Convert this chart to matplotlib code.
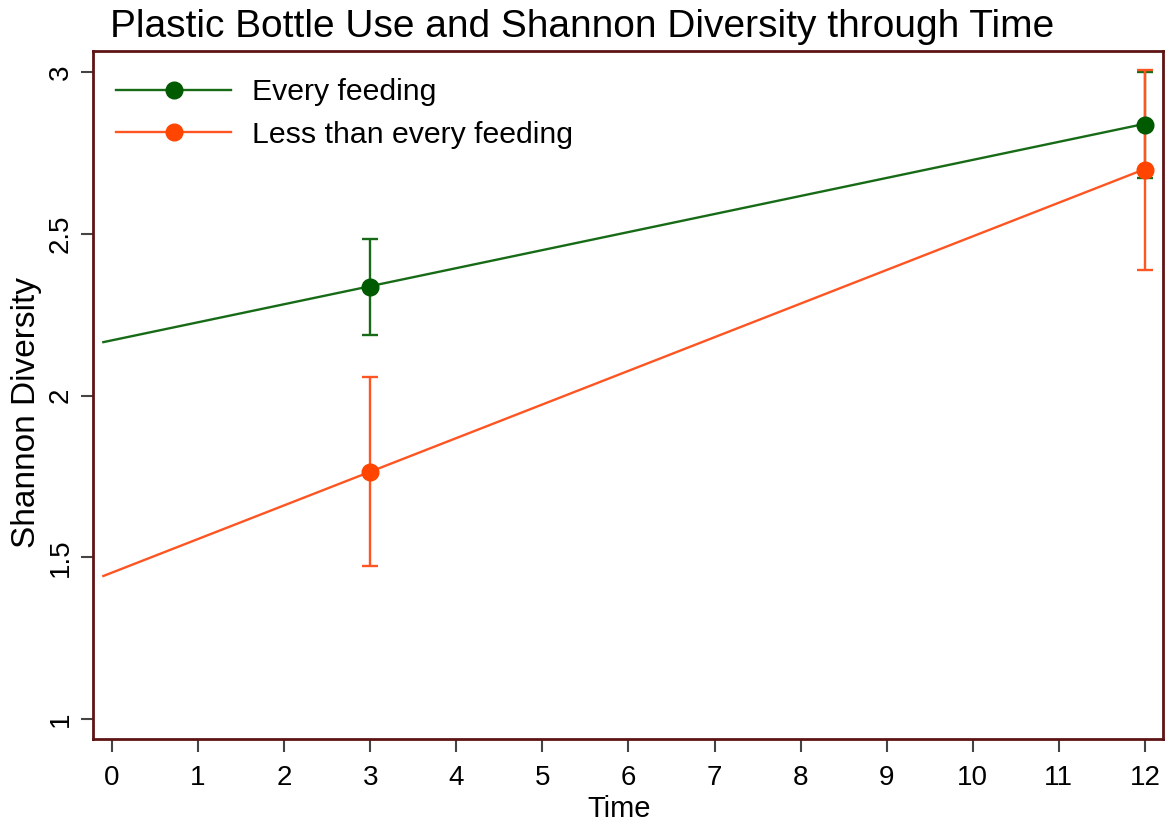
import matplotlib
matplotlib.use('Agg')
import matplotlib.pyplot as plt

# data
time_pts = [3, 12]
every_mean = [2.336, 2.836]
every_err = [0.148, 0.163]
less_mean = [1.764, 2.697]
less_err = [0.292, 0.309]

# fitted lines
fit_x = [-0.1, 12]
every_fit = [2.165, 2.840]
less_fit = [1.442, 2.700]

green = '#176b17'
green_pt = '#005a00'
orange = '#ff5522'
orange_pt = '#ff4500'
frame = '#5e1414'

plt.rcParams['font.family'] = ['Liberation Sans', 'DejaVu Sans']

fig = plt.figure(figsize=(11.7, 8.27), dpi=100)
ax = fig.add_axes([0.0795, 0.1064, 0.9145, 0.8319])

ax.plot(fit_x, every_fit, color=green, lw=1.7)
ax.plot(fit_x, less_fit, color=orange, lw=1.7)
ax.errorbar(time_pts, every_mean, yerr=every_err, fmt='none', ecolor=green,
            elinewidth=1.7, capsize=6, capthick=1.7)
ax.errorbar(time_pts, less_mean, yerr=less_err, fmt='none', ecolor=orange,
            elinewidth=1.7, capsize=6, capthick=1.7)
ax.plot(time_pts, every_mean, 'o', color=green_pt, ms=12)
ax.plot(time_pts, less_mean, 'o', color=orange_pt, ms=12)

# legend handles
h1, = ax.plot([], [], '-o', color=green, mfc=green_pt, mec=green_pt, ms=12, lw=1.7)
h2, = ax.plot([], [], '-o', color=orange, mfc=orange_pt, mec=orange_pt, ms=12, lw=1.7)
ax.legend([h1, h2], ['Every feeding', 'Less than every feeding'], loc='upper left',
          frameon=False, fontsize=21.8, handlelength=3.8, handletextpad=0.7,
          labelspacing=0.48, borderaxespad=0, bbox_to_anchor=(0.0103, 0.978))

ax.set_xlim(-0.22, 12.21)
ax.set_ylim(0.938, 3.065)
ax.set_xticks(range(13))
ax.set_yticks([1, 1.5, 2, 2.5, 3])
ax.set_yticklabels(['1', '1.5', '2', '2.5', '3'], rotation=90, va='center')
ax.tick_params(axis='both', labelsize=20, length=9, width=1.5, color='#444444')
ax.tick_params(axis='x', pad=10)
ax.tick_params(axis='y', pad=5)

for s in ax.spines.values():
    s.set_color(frame)
    s.set_linewidth(2)

ax.set_xlabel('Time', fontsize=21, va='top')
ax.xaxis.set_label_coords(0.4915, -0.081)
ax.set_ylabel('Shannon Diversity', fontsize=24, va='top')
ax.yaxis.set_label_coords(-0.0765, 0.475)
fig.text(0.4979, 0.9553, 'Plastic Bottle Use and Shannon Diversity through Time',
         ha='center', va='baseline', fontsize=28)

fig.savefig('out.png', dpi=100)
